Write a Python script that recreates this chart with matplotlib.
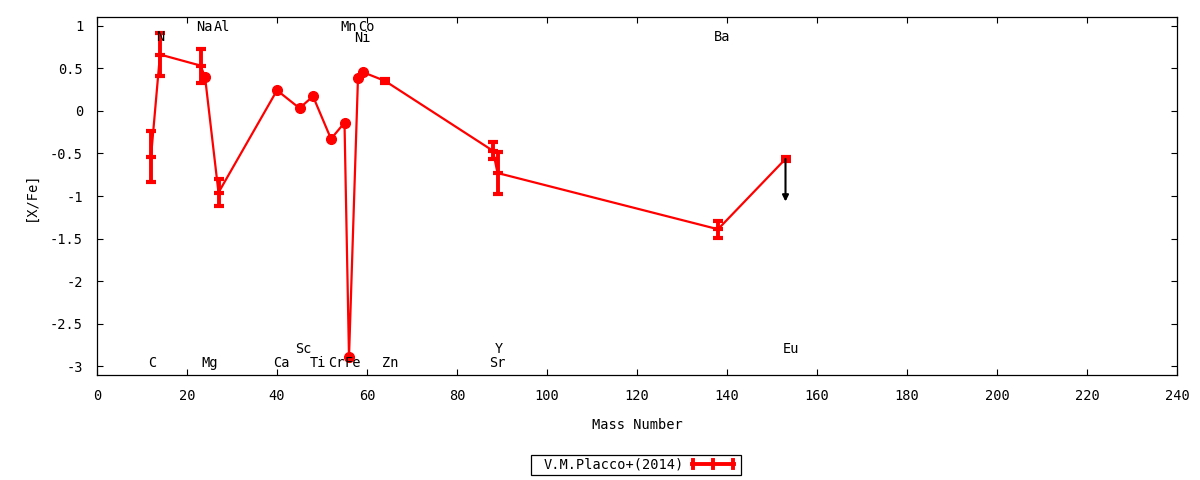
import numpy as np
import matplotlib
matplotlib.use("Agg")
import matplotlib.pyplot as plt
from matplotlib.patches import Rectangle
from matplotlib.lines import Line2D

plt.rcParams['font.family'] = ['DejaVu Sans Mono']
plt.rcParams['font.size'] = 10
plt.rcParams['axes.unicode_minus'] = False
fs = 9.8

# abundance pattern
elements = ['C', 'N', 'Na', 'Mg', 'Al', 'Ca', 'Sc', 'Ti', 'Cr', 'Mn', 'Fe',
            'Ni', 'Co', 'Zn', 'Sr', 'Y', 'Ba', 'Eu']
mass = [12, 14, 23, 24, 27, 40, 45, 48, 52, 55, 56, 58, 59, 64, 88, 89, 138, 153]
xfe = [-0.54, 0.66, 0.53, 0.40, -0.96, 0.24, 0.03, 0.17, -0.33, -0.14, -2.89,
       0.39, 0.455, 0.35, -0.47, -0.73, -1.39, -0.565]
err = [0.30, 0.25, 0.20, 0.0, 0.16, 0.0, 0.0, 0.0, 0.0, 0.0, 0.0,
       0.0, 0.0, 0.02, 0.10, 0.25, 0.10, 0.02]
upper = ['Eu']
arrow_len = 0.5

# element name labels (positions as in the reference)
lab_names = ['N', 'Na', 'Al', 'Mn', 'Co', 'Ni', 'Ba',
             'C', 'Mg', 'Ca', 'Ti', 'Cr', 'Fe', 'Zn', 'Sr', 'Sc', 'Y', 'Eu']
lab_x = [14.0, 23.8, 27.8, 55.9, 59.8, 59.0, 138.9,
         12.2, 25.1, 41.0, 49.1, 53.3, 56.9, 65.1, 89.0, 45.8, 89.4, 154.2]
lab_y = [0.86, 0.985, 0.985, 0.985, 0.985, 0.85, 0.86,
         -2.965, -2.965, -2.965, -2.965, -2.965, -2.965, -2.965, -2.965, -2.80, -2.80, -2.80]

mass = np.array(mass, dtype=float)
xfe = np.array(xfe)
err = np.array(err)

fig = plt.figure(figsize=(12, 4.8), dpi=100)
ax = fig.add_axes([97/1200, 1-375/480, 1080/1200, 358/480])

ax.plot(mass, xfe, color='red', lw=1.6, zorder=2)

e = err > 0
ax.errorbar(mass[e], xfe[e], yerr=err[e], fmt='none', ecolor='red',
            elinewidth=2.8, capsize=3.3, capthick=3, zorder=3)
ax.plot(mass[e], xfe[e], '_', color='red', ms=6.5, mew=3, zorder=3)
ax.plot(mass[~e], xfe[~e], 'o', color='red', ms=7, zorder=3)

for el in upper:
    i = elements.index(el)
    ax.annotate('', xy=(mass[i], xfe[i]-arrow_len), xytext=(mass[i], xfe[i]),
                arrowprops=dict(arrowstyle='-|>', color='black', lw=1.5,
                                mutation_scale=9, shrinkA=0, shrinkB=0), zorder=4)

for n, x, y in zip(lab_names, lab_x, lab_y):
    ax.text(x, y, n, ha='center', va='center', fontsize=fs)

ax.set_xlim(0, 240)
ax.set_ylim(-3.1, 1.1)
ax.set_xticks(np.arange(0, 241, 20))
ax.set_yticks([-3, -2.5, -2, -1.5, -1, -0.5, 0, 0.5, 1])
ax.set_yticklabels(['-3', '-2.5', '-2', '-1.5', '-1', '-0.5', '0', '0.5', '1'])
ax.tick_params(direction='in', top=True, right=True, length=4, width=0.8,
               labelsize=fs, pad=10)
for s in ax.spines.values():
    s.set_linewidth(0.9)
ax.set_xlabel('Mass Number', fontsize=fs, labelpad=11)
ax.set_ylabel('[X/Fe]', fontsize=fs, labelpad=9)

# legend drawn gnuplot style
fig.add_artist(Rectangle((531/1200, 1-475/480), 210/1200, 20/480, transform=fig.transFigure,
                         fill=False, edgecolor='black', lw=0.9))
fig.text(614/1200, 1-465/480, 'V.M.Placco+(2014)', ha='center', va='center', fontsize=fs)
ly = 1-464/480
fig.add_artist(Line2D([692/1200, 734/1200], [ly, ly], transform=fig.transFigure,
                      color='red', lw=2.8))
for xx in [693/1200, 713/1200, 733/1200]:
    fig.add_artist(Line2D([xx, xx], [ly-4/480, ly+4/480], transform=fig.transFigure,
                          color='red', lw=2.8))

fig.savefig('out.png', dpi=100)
